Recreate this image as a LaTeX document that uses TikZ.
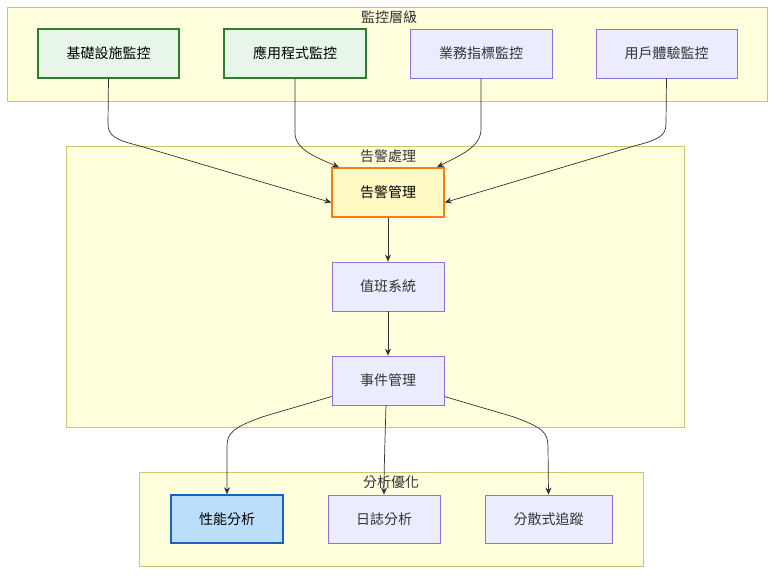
\documentclass[tikz,border=0pt]{standalone}
\usepackage{fontspec}
\setmainfont{Noto Sans CJK TC}
\usetikzlibrary{arrows.meta}
\definecolor{clfill}{HTML}{FFFFDE}
\definecolor{cldraw}{HTML}{C8C86E}
\definecolor{gfill}{HTML}{E8F5E9}
\definecolor{gdraw}{HTML}{2E7D32}
\definecolor{pfill}{HTML}{ECECFF}
\definecolor{pdraw}{HTML}{9370DB}
\definecolor{yfill}{HTML}{FFF9C4}
\definecolor{ydraw}{HTML}{F57F17}
\definecolor{bfill}{HTML}{BBDEFB}
\definecolor{bdraw}{HTML}{1565C0}
\definecolor{edgec}{HTML}{333333}
\tikzset{
  cluster/.style={draw=cldraw, fill=clfill, line width=0.8pt},
  cltext/.style={font=\fontsize{14}{16}\selectfont, text=edgec, inner sep=0pt},
  box/.style={draw=pdraw, fill=pfill, line width=0.8pt, font=\fontsize{14}{16}\selectfont, text=edgec, inner sep=0pt, anchor=center},
  gbox/.style={box, draw=gdraw, fill=gfill, line width=1.4pt, text=black},
  ybox/.style={box, draw=ydraw, fill=yfill, line width=1.4pt, text=black},
  bbox/.style={box, draw=bdraw, fill=bfill, line width=1.4pt, text=black},
  conn/.style={draw=edgec, line width=0.7pt, -{Stealth[length=7pt,width=6pt]}},
}
\begin{document}
\begin{tikzpicture}[x=1pt,y=-1pt]
\useasboundingbox (0,0) rectangle (784,580);
% clusters
\draw[cluster] (7,7) rectangle (767,101);
\node[cltext] (t1) at (389,17) {監控層級};
\draw[cluster] (66,146) rectangle (684,427);
\node[cltext] (t2) at (388,156) {告警處理};
\draw[cluster] (139,472) rectangle (643,566);
\node[cltext] (t3) at (391,482) {分析優化};
% nodes
\node[gbox, minimum width=141pt, minimum height=49pt] (infra) at (108.5,53.5) {基礎設施監控};
\node[gbox, minimum width=142pt, minimum height=49pt] (app) at (295,53.5) {應用程式監控};
\node[box, minimum width=142pt, minimum height=49pt] (biz) at (481,53.5) {業務指標監控};
\node[box, minimum width=141pt, minimum height=49pt] (ux) at (666.5,53.5) {用戶體驗監控};
\node[ybox, minimum width=112pt, minimum height=49pt] (alert) at (388,192.5) {告警管理};
\node[box, minimum width=112pt, minimum height=49pt] (duty) at (388,286.5) {值班系統};
\node[box, minimum width=112pt, minimum height=49pt] (event) at (388,380.5) {事件管理};
\node[bbox, minimum width=112pt, minimum height=48pt] (perf) at (227,519) {性能分析};
\node[box, minimum width=112pt, minimum height=48pt] (log) at (384,519) {日誌分析};
\node[box, minimum width=127pt, minimum height=48pt] (trace) at (548.5,519) {分散式追蹤};
% edges
\draw[conn] (infra.south) -- (108,124) .. controls (108,136) and (116,140) .. (140,146) -- ([yshift=-10pt]alert.west);
\draw[conn] (app.south) -- (295,133) .. controls (295,150) and (318,158) .. ([xshift=-49pt]alert.north);
\draw[conn] (biz.south) -- (481,129) .. controls (481,148) and (458,156) .. ([xshift=49pt]alert.north);
\draw[conn] (ux.south) -- (666,124) .. controls (666,136) and (658,140) .. (634,146) -- ([yshift=-10pt]alert.east);
\draw[conn] (alert.south) -- (duty.north);
\draw[conn] (duty.south) -- (event.north);
\draw[conn] ([yshift=-16pt]event.west) -- (262,417) .. controls (235,427) and (227,432) .. (227,446) -- (perf.north);
\draw[conn] ([xshift=-2pt]event.south) .. controls (385,440) and (384,470) .. (log.north);
\draw[conn] ([yshift=-16pt]event.east) -- (514,417) .. controls (541,427) and (548,432) .. (548,446) -- (trace.north);
\end{tikzpicture}
\end{document}
